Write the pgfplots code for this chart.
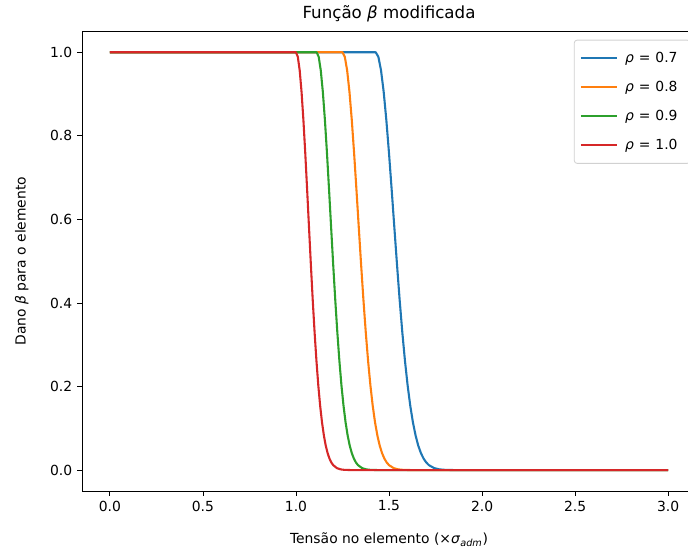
\documentclass[border=0pt]{standalone}
\usepackage{pgfplots}
\usepackage{pgfplotstable}
\pgfplotsset{compat=1.18}
\usepackage{fontspec}
\setmainfont{DejaVu Sans}
\definecolor{tabblue}{HTML}{1F77B4}
\definecolor{taborange}{HTML}{FF7F0E}
\definecolor{tabgreen}{HTML}{2CA02C}
\definecolor{tabred}{HTML}{D62728}
\newcommand{\req}{\hspace{0.36em}=\hspace{0.36em}}
\pgfplotstableread{
xa xb xc xd b
0.0000 0.0000 0.0000 0.0000 1.0000
1.4286 1.2500 1.1111 1.0000 1.0000
1.4429 1.2625 1.1222 1.0100 0.9890
1.4571 1.2750 1.1333 1.0200 0.9567
1.4714 1.2875 1.1444 1.0300 0.9051
1.4857 1.3000 1.1556 1.0400 0.8376
1.5000 1.3125 1.1667 1.0500 0.7581
1.5143 1.3250 1.1778 1.0600 0.6711
1.5286 1.3375 1.1889 1.0700 0.5811
1.5429 1.3500 1.2000 1.0800 0.4921
1.5571 1.3625 1.2111 1.0900 0.4076
1.5714 1.3750 1.2222 1.1000 0.3302
1.5857 1.3875 1.2333 1.1100 0.2617
1.6000 1.4000 1.2444 1.1200 0.2028
1.6143 1.4125 1.2556 1.1300 0.1537
1.6286 1.4250 1.2667 1.1400 0.1140
1.6429 1.4375 1.2778 1.1500 0.0827
1.6571 1.4500 1.2889 1.1600 0.0586
1.6714 1.4625 1.3000 1.1700 0.0407
1.6857 1.4750 1.3111 1.1800 0.0276
1.7000 1.4875 1.3222 1.1900 0.0183
1.7143 1.5000 1.3333 1.2000 0.0119
1.7429 1.5250 1.3556 1.2200 0.0047
1.7714 1.5500 1.3778 1.2400 0.0017
1.8000 1.5750 1.4000 1.2600 0.0006
1.8571 1.6250 1.4444 1.3000 0.0000
3.0000 3.0000 3.0000 3.0000 0.0000
}\betatab
\begin{document}
\begin{tikzpicture}
\begin{axis}[
  name=ax,
  scale only axis,
  width=442pt, height=330.8pt,
  xmin=-0.15, xmax=3.15, ymin=-0.05, ymax=1.05,
  xtick={0,0.5,...,3.0}, ytick={0,0.2,...,1.0},
  /pgf/number format/assume math mode=true,
  /pgf/number format/fixed, /pgf/number format/fixed zerofill,
  /pgf/number format/precision=1,
  tick align=outside, tick pos=left,
  major tick length=3.5pt,
  tick style={black, line width=0.6pt},
  axis line style={line width=0.6pt},
  tick label style={font=\fontsize{10}{12}\selectfont},
  every axis x label/.style={at={(rel axis cs:0.5,0)}, anchor=center, yshift=-35pt, font=\fontsize{10}{12}\selectfont},
  every axis y label/.style={at={(rel axis cs:0,0.5)}, xshift=-43.4pt, rotate=90, anchor=center, font=\fontsize{10}{12}\selectfont},
  every axis title/.style={at={(rel axis cs:0.5,1)}, anchor=center, yshift=12.5pt, font=\fontsize{12}{14}\selectfont},
  title={Função \textit{β} modificada},
  xlabel={Tensão no elemento (×\textit{σ}\textsubscript{\textit{adm}})},
  ylabel={Dano \textit{β} para o elemento},
  legend style={at={(rel axis cs:1,1)}, xshift=-4pt, yshift=-6pt, anchor=north east,
    draw=black!18, rounded corners=2pt, line width=0.6pt,
    font=\fontsize{10}{12}\selectfont, row sep=8pt, inner xsep=4pt, inner ysep=6.5pt,
    nodes={inner xsep=5pt}},
  legend cell align=left,
  legend image code/.code={\draw[#1, line width=1.5pt] (0pt,0pt) -- (26pt,0pt);},
  every axis plot/.append style={line width=1.5pt, line join=round},
]
\addplot[tabblue, no marks] table[x=xa, y=b] {\betatab};
\addlegendentry{\textit{ρ}\req 0.7}
\addplot[taborange, no marks] table[x=xb, y=b] {\betatab};
\addlegendentry{\textit{ρ}\req 0.8}
\addplot[tabgreen, no marks] table[x=xc, y=b] {\betatab};
\addlegendentry{\textit{ρ}\req 0.9}
\addplot[tabred, no marks] table[x=xd, y=b] {\betatab};
\addlegendentry{\textit{ρ}\req 1.0}
\end{axis}
\pgfresetboundingbox
\path[use as bounding box] ([shift={(-59pt,-44.7pt)}]ax.south west) rectangle ([shift={(-5.8pt,22.6pt)}]ax.north east);
\end{tikzpicture}
\end{document}
